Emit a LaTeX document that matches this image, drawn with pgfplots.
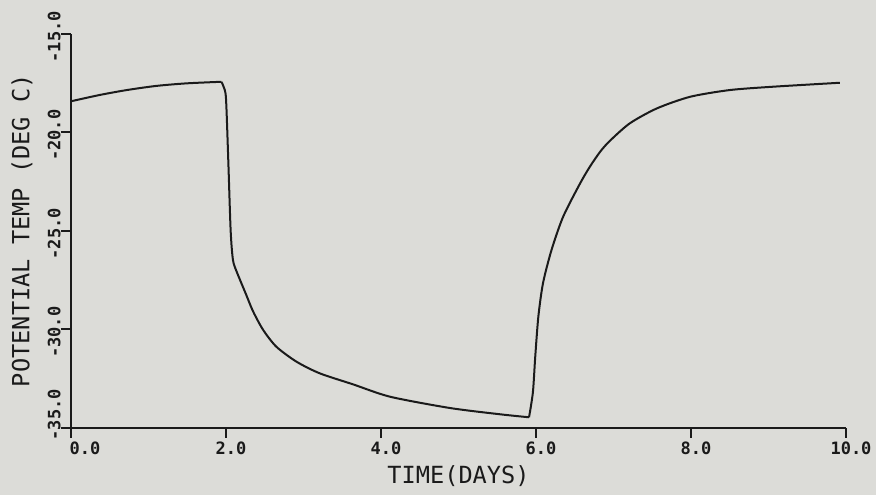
\documentclass[border=0pt]{standalone}
\usepackage{fontspec}
\setmainfont{DejaVu Sans Mono}
\usepackage{pgfplots}
\pgfplotsset{compat=1.18}
\definecolor{paper}{HTML}{DCDCD8}
\definecolor{ink}{HTML}{1A1A1A}

\begin{document}
\begin{tikzpicture}
\fill[paper] (0,0) rectangle (438pt,247.5pt);
\begin{axis}[
  at={(35.5pt,33.65pt)}, anchor=south west,
  scale only axis,
  width=387.5pt, height=197pt,
  xmin=0, xmax=10, ymin=-35, ymax=-15,
  axis x line*=bottom, axis y line*=left,
  axis line style={ink, line width=1pt},
  xtick={2,4,6,8,10}, ytick={-30,-25,-20,-15},
  xticklabels={2.0,4.0,6.0,8.0,10.0},
  yticklabels={-30.0,-25.0,-20.0,-15.0},
  extra x ticks={0}, extra x tick labels={0.0},
  extra x tick style={xticklabel style={xshift=4.5pt}},
  extra y ticks={-35}, extra y tick labels={-35.0},
  extra y tick style={yticklabel style={xshift=8pt}},
  tick align=outside, major tick length=5pt,
  tick style={ink, line width=0.8pt},
  ticklabel style={font=\bfseries\fontsize{8.5}{10}\selectfont, text=ink},
  xticklabel style={anchor=north, inner sep=0pt, xshift=2.5pt, yshift=-2pt},
  yticklabel style={rotate=90, anchor=south, inner sep=0pt, xshift=-1.5pt},
  xlabel={TIME(DAYS)},
  ylabel={POTENTIAL TEMP (DEG C)},
  label style={font=\fontsize{11.8}{13}\selectfont, text=ink},
  xlabel style={at={(axis description cs:0.5,0)}, anchor=center, yshift=-24pt},
  ylabel style={at={(axis description cs:0,0.5)}, anchor=center, yshift=24.5pt},
  clip=false,
]
\addplot[ink, line width=1pt, smooth, tension=0.45, no markers] coordinates {
  (0,-18.43) (0.37,-18.11) (0.72,-17.86) (1.10,-17.65) (1.49,-17.52) (1.94,-17.44)
};
\addplot[ink, line width=1pt, smooth, tension=0.45, no markers] coordinates {
  (1.94,-17.44) (1.97,-17.7) (2.0,-18.3) (2.03,-21.5) (2.06,-25.0) (2.09,-26.49) (2.14,-27.1)
  (2.25,-28.15) (2.35,-29.1) (2.48,-30.04) (2.65,-30.89) (2.91,-31.65) (3.21,-32.24)
  (3.64,-32.8) (4.12,-33.43) (4.89,-34.0) (5.54,-34.32) (5.91,-34.47)
};
\addplot[ink, line width=1pt, smooth, tension=0.45, no markers] coordinates {
  (5.91,-34.47) (5.96,-33.2) (5.99,-31.4) (6.03,-29.37) (6.09,-27.67) (6.20,-25.98) (6.35,-24.29)
  (6.57,-22.59) (6.70,-21.72) (6.83,-20.98) (6.95,-20.45) (7.21,-19.55) (7.56,-18.79) (7.99,-18.20)
  (8.50,-17.86) (9.06,-17.69) (9.92,-17.49)
};
\end{axis}
\pgfresetboundingbox
\path[use as bounding box] (0,0) rectangle (438pt,247.5pt);
\end{tikzpicture}
\end{document}
